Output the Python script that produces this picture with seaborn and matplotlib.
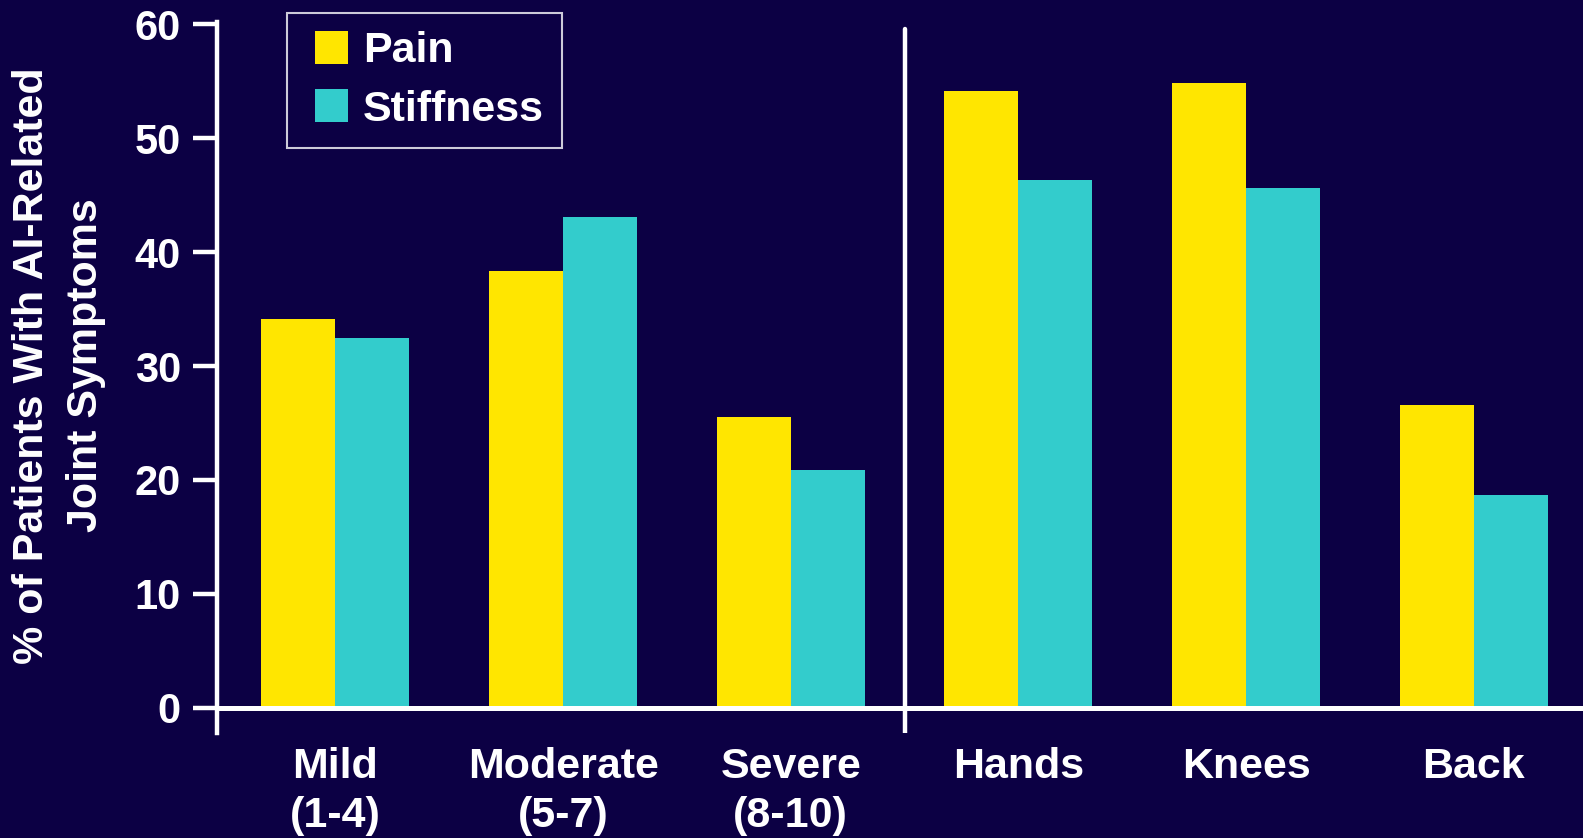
import matplotlib
matplotlib.use("Agg")
import matplotlib.pyplot as plt
import seaborn as sns
import pandas as pd
from matplotlib.patches import Patch, Rectangle
from matplotlib.legend_handler import HandlerPatch

categories = ["Mild\n(1-4)", "Moderate\n(5-7)", "Severe\n(8-10)", "Hands", "Knees", "Back"]
pain = [34.1, 38.3, 25.5, 54.1, 54.8, 26.6]
stiffness = [32.5, 43.1, 20.9, 46.3, 45.6, 18.7]
series = ["Pain", "Stiffness"]
colors = ["#FFE600", "#33CCCC"]
yticks = [0, 10, 20, 30, 40, 50, 60]
ylabel = "% of Patients With AI-Related\nJoint Symptoms"

bg = "#0C0044"
fg = "white"

df = pd.DataFrame({
    "category": categories * 2,
    "series": [series[0]] * len(categories) + [series[1]] * len(categories),
    "value": pain + stiffness,
})

sns.set_style("white")
plt.rcParams["font.family"] = ["Liberation Sans", "DejaVu Sans"]
plt.rcParams["font.weight"] = "bold"

fig = plt.figure(figsize=(15.83, 8.38), dpi=100, facecolor=bg)
ax = fig.add_axes([0.1371, 0.1253, 0.8629, 0.8484])
ax.set_facecolor(bg)

sns.barplot(data=df, x="category", y="value", hue="series", order=categories,
            hue_order=series, palette=colors, width=0.65, gap=0,
            saturation=1, edgecolor="none", linewidth=0, ax=ax, legend=False,
            zorder=2)

ax.set_xlim(-0.52, 5.48)
ax.set_ylim(-2.2, 60.18)
ax.set_yticks(yticks)
ax.set_yticklabels([str(t) for t in yticks])

for s in ["top", "right", "bottom"]:
    ax.spines[s].set_visible(False)
ax.spines["left"].set_color(fg)
ax.spines["left"].set_linewidth(3.2)

ax.axhline(0, color=fg, linewidth=3.6, zorder=3)
ax.axvline(2.5, ymin=0, ymax=0.99, color=fg, linewidth=3.2, zorder=3)

ax.tick_params(axis="y", colors=fg, length=17, width=3.2, labelsize=30, pad=9,
               direction="out", left=True)
ax.tick_params(axis="x", colors=fg, length=0, labelsize=31, pad=10)
for lab in ax.get_xticklabels() + ax.get_yticklabels():
    lab.set_fontweight("bold")
    lab.set_color(fg)
for lab in ax.get_xticklabels():
    lab.set_linespacing(1.3)

ax.set_xlabel("")
ax.set_ylabel(ylabel, color=fg, fontsize=31, fontweight="bold",
              linespacing=1.45)
ax.yaxis.set_label_coords(-0.081, 0.517)


def square_patch(legend, orig_handle, xdescent, ydescent, width, height, fontsize):
    side = height
    return Rectangle((-xdescent + width - side, -ydescent), side, height)


handles = [Patch(facecolor=c, edgecolor="none") for c in colors]
leg = ax.legend(handles, series, loc="upper left", bbox_to_anchor=(0.051, 1.013),
                borderaxespad=0, frameon=True, fancybox=False, fontsize=31,
                handlelength=1.0, handleheight=0.8, handletextpad=0.35,
                labelspacing=0.42, borderpad=0.42,
                handler_map={Patch: HandlerPatch(patch_func=square_patch)})
leg.get_frame().set_facecolor(bg)
leg.get_frame().set_edgecolor(fg)
leg.get_frame().set_linewidth(1.5)
for t in leg.get_texts():
    t.set_color(fg)
    t.set_fontweight("bold")

fig.savefig("out.png", dpi=100, facecolor=bg)
